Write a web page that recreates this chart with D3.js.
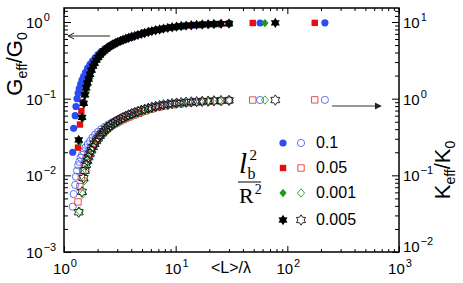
<!DOCTYPE html>
<html><head><meta charset="utf-8">
<script src="https://cdn.jsdelivr.net/npm/d3@7"></script>
<style>body{margin:0;background:#fff}svg{display:block}</style>
</head><body><svg id="c" width="463" height="283"></svg>
<script>
// ---------- data ----------
const legendLabels = ["0.1", "0.05", "0.001", "0.005"];

const xBlue = [1.196,1.22,1.26,1.28,1.31,1.34,1.37,1.41,1.45,1.50,1.56,1.63,1.71,1.80,1.90,2.02,2.16,2.32,2.50,2.70,2.95,3.25,3.60,4.00,4.50,5.10,5.80,6.60,7.60,8.80,10.2,12.0,14.3,17.3,22.5,30.0,57,217];
const gBlue = [0.020,0.041,0.060,0.079,0.100,0.118,0.135,0.155,0.175,0.195,0.220,0.250,0.280,0.310,0.340,0.375,0.410,0.440,0.475,0.505,0.535,0.570,0.600,0.635,0.670,0.710,0.750,0.785,0.815,0.845,0.870,0.890,0.907,0.922,0.938,0.953,0.970,0.975];
const kBlue = [0.039,0.057,0.075,0.096,0.115,0.135,0.150,0.170,0.185,0.205,0.230,0.255,0.280,0.310,0.340,0.370,0.400,0.430,0.460,0.490,0.515,0.545,0.580,0.620,0.655,0.705,0.745,0.785,0.825,0.855,0.875,0.895,0.910,0.925,0.940,0.950,0.960,0.965];

const xRed = [1.335,1.39,1.43,1.47,1.52,1.58,1.65,1.73,1.83,1.94,2.07,2.22,2.40,2.60,2.85,3.10,3.40,3.80,4.20,4.70,5.30,6.00,6.90,8.00,9.30,11.0,13.0,15.3,17.5,20.5,25.0,30.0,49,176];
const gRed = [0.023,0.046,0.069,0.090,0.115,0.150,0.190,0.235,0.280,0.325,0.370,0.410,0.450,0.490,0.525,0.555,0.590,0.625,0.655,0.690,0.730,0.765,0.800,0.830,0.855,0.880,0.900,0.915,0.925,0.935,0.945,0.955,0.970,0.975];
const kRed = [0.045,0.071,0.095,0.115,0.140,0.165,0.195,0.225,0.260,0.295,0.330,0.365,0.400,0.435,0.470,0.500,0.535,0.575,0.610,0.645,0.690,0.730,0.770,0.805,0.835,0.860,0.885,0.900,0.915,0.925,0.935,0.950,0.960,0.965];

const xGreen = [1.38,1.47,1.52,1.58,1.64,1.71,1.79,1.89,2.00,2.12,2.27,2.43,2.62,2.84,3.10,3.40,3.75,4.15,4.60,5.15,5.80,6.60,7.50,8.60,10.0,11.7,13.8,16.5,20.0,24.5,30.5,63];
const gGreen = [0.027,0.055,0.085,0.120,0.150,0.185,0.230,0.275,0.320,0.360,0.400,0.440,0.475,0.510,0.545,0.580,0.610,0.640,0.675,0.710,0.745,0.780,0.810,0.840,0.865,0.885,0.900,0.915,0.930,0.940,0.955,0.970];
const kGreen = [0.034,0.057,0.085,0.115,0.145,0.175,0.210,0.245,0.280,0.315,0.350,0.385,0.420,0.455,0.490,0.525,0.560,0.600,0.635,0.675,0.715,0.755,0.790,0.820,0.850,0.875,0.890,0.910,0.925,0.935,0.950,0.960];

const xBlack = [1.354,1.45,1.50,1.54,1.58,1.62,1.66,1.71,1.76,1.82,1.88,1.95,2.02,2.10,2.19,2.28,2.38,2.49,2.61,2.74,2.88,3.03,3.20,3.38,3.58,3.80,4.04,4.30,4.60,4.92,5.28,5.68,6.12,6.62,7.18,7.80,8.50,9.30,10.2,11.2,12.4,13.8,15.4,17.3,19.5,22.0,25.5,30.0,78];
const gBlack = [0.029,0.057,0.087,0.112,0.138,0.160,0.180,0.208,0.235,0.265,0.290,0.318,0.345,0.370,0.397,0.420,0.443,0.465,0.487,0.508,0.528,0.548,0.568,0.587,0.605,0.623,0.641,0.660,0.680,0.700,0.720,0.740,0.760,0.780,0.800,0.820,0.838,0.855,0.870,0.885,0.897,0.908,0.918,0.927,0.935,0.942,0.948,0.955,0.975];
const kBlack = [0.033,0.061,0.092,0.115,0.137,0.155,0.172,0.192,0.212,0.235,0.257,0.280,0.303,0.327,0.352,0.377,0.400,0.425,0.450,0.473,0.497,0.520,0.543,0.567,0.590,0.613,0.636,0.660,0.683,0.706,0.728,0.750,0.772,0.793,0.812,0.830,0.847,0.862,0.876,0.888,0.898,0.907,0.915,0.922,0.929,0.936,0.943,0.950,0.960];

const xTickValues = [1, 10, 100, 1000];
const xTickExps = ["0", "1", "2", "3"];
const yLeftTickValues = [0.001, 0.01, 0.1, 1];
const yLeftTickExps = ["\u22123", "\u22122", "\u22121", "0"];
const yRightTickValues = [0.01, 0.1, 1, 10];
const yRightTickExps = ["\u22122", "\u22121", "0", "1"];

// ---------- setup ----------
const svg = d3.select("#c");
const L = 64, R = 399, T = 8, B = 252;
const x = d3.scaleLog().domain([1, 1000]).range([L, R]);
const yL = d3.scaleLog().domain([0.001, 1.523]).range([B, T]);
const yR = d3.scaleLog().domain([0.01, 15.23]).range([B, T]);
const SANS = "'Liberation Sans', Arial, Helvetica, sans-serif";
const SERIF = "'Liberation Serif', 'Times New Roman', serif";

function minors(lo, hi) {
  const out = [];
  for (let d = lo; d < hi; d *= 10) for (let k = 2; k <= 9; k++) out.push(d * k);
  return out;
}

// ---------- symbols ----------
function hexagram(r) {
  const ri = r * 0.6;
  let p = "";
  for (let k = 0; k < 12; k++) {
    const a = (-90 + k * 30) * Math.PI / 180;
    const rr = k % 2 === 0 ? r : ri;
    p += (k === 0 ? "M" : "L") + (rr * Math.cos(a)).toFixed(2) + "," + (rr * Math.sin(a)).toFixed(2);
  }
  return p + "Z";
}
const shapes = {
  circle: r => `M${r},0A${r},${r} 0 1,1 ${-r},0A${r},${r} 0 1,1 ${r},0Z`,
  square: s => `M${-s},${-s}H${s}V${s}H${-s}Z`,
  diamond: s => `M0,${-s * 1.15}L${s},0L0,${s * 1.15}L${-s},0Z`,
  star: r => hexagram(r)
};

const series = [
  { label: legendLabels[1], xs: xRed, g: gRed, k: kRed, shape: "square", size: 3.2, fill: "#e80c0c", open: "#e83a3a" },
  { label: legendLabels[0], xs: xBlue, g: gBlue, k: kBlue, shape: "circle", size: 3.6, fill: "#2a4cf5", open: "#4a68f5" },
  { label: legendLabels[2], xs: xGreen, g: gGreen, k: kGreen, shape: "diamond", size: 3.6, fill: "#1f9a1f", open: "#2aa02a" },
  { label: legendLabels[3], xs: xBlack, g: gBlack, k: kBlack, shape: "star", size: 5.2, fill: "#000", open: "#111" }
];

// ---------- marks ----------
const plot = svg.append("g");
series.forEach(s => {
  const pts = s.xs.map((v, i) => ({ x: v, g: s.g[i], k: s.k[i] }));
  plot.append("g").selectAll("path").data(pts).join("path")
    .attr("d", shapes[s.shape](s.size))
    .attr("transform", d => `translate(${x(d.x)},${yR(d.k)})`)
    .attr("fill", "none").attr("stroke", s.open).attr("stroke-width", 0.9);
});
series.forEach(s => {
  const pts = s.xs.map((v, i) => ({ x: v, g: s.g[i], k: s.k[i] }));
  plot.append("g").selectAll("path").data(pts).join("path")
    .attr("d", shapes[s.shape](s.size))
    .attr("transform", d => `translate(${x(d.x)},${yL(d.g)})`)
    .attr("fill", s.fill).attr("stroke", "none");
});

// ---------- axes (inward ticks) ----------
function ax(gen, tx, ty, vals, size) {
  const g = svg.append("g").attr("transform", `translate(${tx},${ty})`)
    .call(gen.tickValues(vals).tickSize(size).tickFormat(""));
  g.select(".domain").remove();
  g.selectAll("line").attr("stroke", "#000").attr("stroke-width", 1);
}
const xMin = minors(1, 1000);
ax(d3.axisBottom(x), 0, B, xTickValues, -6);
ax(d3.axisBottom(x), 0, B, xMin, -3);
ax(d3.axisTop(x), 0, T, xTickValues, -6);
ax(d3.axisTop(x), 0, T, xMin, -3);
ax(d3.axisLeft(yL), L, 0, yLeftTickValues, -7);
ax(d3.axisLeft(yL), L, 0, minors(0.001, 1).concat([1.2, 1.4]).filter(v => v <= 1.523), -4);
ax(d3.axisRight(yR), R, 0, yRightTickValues, -7);
ax(d3.axisRight(yR), R, 0, minors(0.01, 10).concat([12, 14]).filter(v => v <= 15.23), -4);

svg.append("rect").attr("x", L).attr("y", T).attr("width", R - L).attr("height", B - T)
  .attr("fill", "none").attr("stroke", "#000").attr("stroke-width", 1.5);

// ---------- tick labels ----------
function powLabel(g, px, py, exp, anchor) {
  const t = g.append("text").attr("x", px).attr("y", py)
    .attr("font-family", SANS).attr("font-size", 15).attr("fill", "#000")
    .attr("text-anchor", anchor);
  t.append("tspan").text("10");
  t.append("tspan").attr("font-size", 11).attr("dy", -7).attr("dx", 1).text(exp);
}
const lab = svg.append("g");
xTickValues.forEach((v, i) => powLabel(lab, x(v) + 1, 274, xTickExps[i], "middle"));
yLeftTickValues.forEach((v, i) => powLabel(lab, 26, yL(v) + 6, yLeftTickExps[i], "start"));
yRightTickValues.forEach((v, i) => powLabel(lab, 403, yR(v) + (i === 0 ? 0 : 6), yRightTickExps[i], "start"));

// x-axis title
lab.append("text").attr("x", 231).attr("y", 273).attr("text-anchor", "middle")
  .attr("font-family", SANS).attr("font-size", 16).text("<L>/\u03bb");

// y titles
function yTitle(cx, cy, main) {
  const t = lab.append("text").attr("transform", `translate(${cx},${cy}) rotate(-90)`)
    .attr("text-anchor", "middle").attr("font-family", SANS).attr("font-size", 22);
  t.append("tspan").text(main);
  t.append("tspan").attr("font-size", 14).attr("dy", 5).text("eff");
  t.append("tspan").attr("dy", -5).text("/" + main);
  t.append("tspan").attr("font-size", 14).attr("dy", 5).text("0");
}
yTitle(22, 64, "G");
yTitle(450, 170, "K");

// ---------- legend ----------
const legRows = [143, 168, 193, 220];
const legOrder = [1, 0, 2, 3];
legOrder.forEach((si, row) => {
  const s = series[si];
  const yy = legRows[row];
  lab.append("path").attr("d", shapes[s.shape](s.size)).attr("transform", `translate(283,${yy})`).attr("fill", s.fill);
  lab.append("path").attr("d", shapes[s.shape](s.size)).attr("transform", `translate(301,${yy})`)
    .attr("fill", "none").attr("stroke", s.open).attr("stroke-width", 0.9);
  lab.append("text").attr("x", 316).attr("y", yy + 5).attr("font-family", SANS).attr("font-size", 16).text(s.label);
});

// fraction l_b^2 / R^2
const num = lab.append("text").attr("x", 239).attr("y", 173).attr("font-family", SERIF);
num.append("tspan").attr("font-style", "italic").attr("font-size", 29).text("l");
num.append("tspan").attr("font-size", 16).attr("dx", 0.5).attr("dy", 6).text("b");
num.append("tspan").attr("font-size", 15).attr("dx", -6).attr("dy", -19).text("2");
lab.append("line").attr("x1", 238).attr("x2", 261).attr("y1", 182).attr("y2", 182).attr("stroke", "#000").attr("stroke-width", 1);
const den = lab.append("text").attr("x", 239).attr("y", 203).attr("font-family", SERIF);
den.append("tspan").attr("font-size", 22).text("R");
den.append("tspan").attr("font-size", 14).attr("dx", 1).attr("dy", -9).text("2");

// ---------- arrows ----------
const a1y = yL(0.657), a1x0 = x(2.58), a1x1 = x(1.09);
lab.append("line").attr("x1", a1x0).attr("x2", a1x1).attr("y1", a1y).attr("y2", a1y).attr("stroke", "#222").attr("stroke-width", 1);
lab.append("path").attr("d", `M${a1x1 + 6},${a1y - 3}L${a1x1},${a1y}L${a1x1 + 6},${a1y + 3}`).attr("fill", "none").attr("stroke", "#222").attr("stroke-width", 1);
const a2y = yR(0.80), a2x0 = x(251), a2x1 = x(703);
lab.append("line").attr("x1", a2x0).attr("x2", a2x1 - 6).attr("y1", a2y).attr("y2", a2y).attr("stroke", "#999").attr("stroke-width", 2);
lab.append("path").attr("d", `M${a2x1 - 7},${a2y - 3.5}L${a2x1},${a2y}L${a2x1 - 7},${a2y + 3.5}Z`).attr("fill", "#222");
</script></body></html>
